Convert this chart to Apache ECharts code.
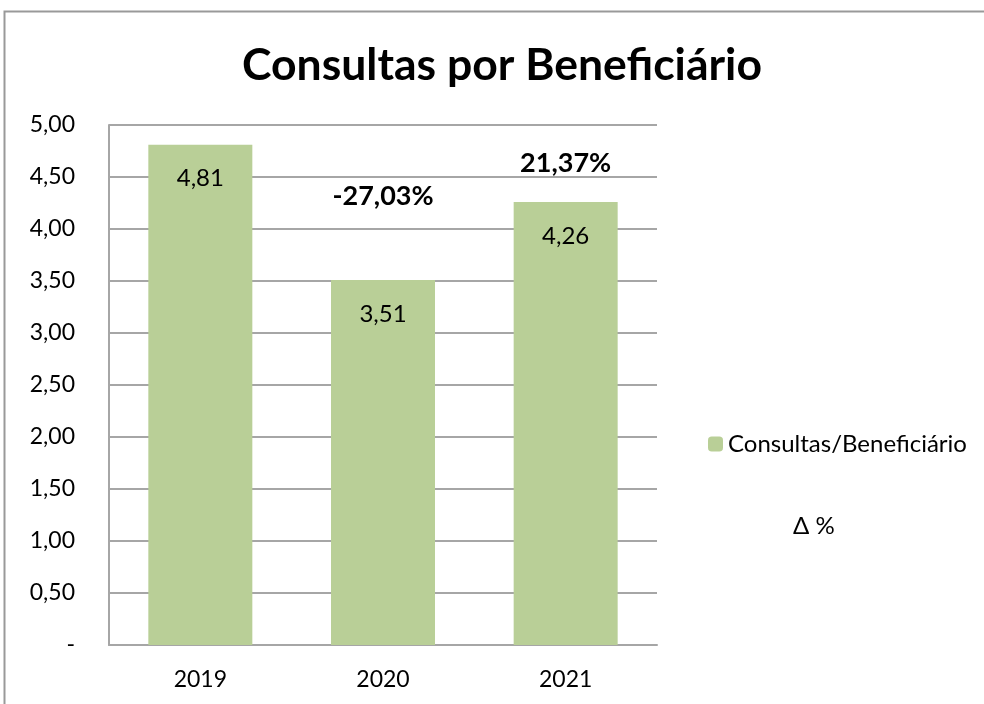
<!DOCTYPE html>
<html>
<head>
<meta charset="utf-8">
<script src="https://cdn.jsdelivr.net/npm/echarts@6/dist/echarts.min.js"></script>
<style>
  html, body { margin: 0; padding: 0; background: #fff; }
  #chart { width: 984px; height: 704px; }
</style>
</head>
<body>
<div id="chart"></div>
<script>
const years = ['2019', '2020', '2021']
const consultas = [4.81, 3.51, 4.26]
// variação anual (%) e altura onde o rótulo aparece no gráfico
const deltaPct = [null, -27.03, 21.37]
const deltaY = [null, 4.31, 4.63]

const fmt = (v, d) => v.toFixed(d).replace('.', ',')
const font = 'Lato, "Open Sans", sans-serif'

const chart = echarts.init(document.getElementById('chart'))

chart.setOption({
  animation: false,
  textStyle: { fontFamily: font },
  title: {
    text: 'Consultas por Beneficiário',
    left: 497,
    textAlign: 'center',
    top: 38,
    textStyle: { fontSize: 44.5, fontWeight: 'bold', color: '#000', fontFamily: font }
  },
  graphic: [{
    type: 'rect',
    shape: { x: 4.5, y: 11.5, width: 1000, height: 720 },
    style: { fill: 'none', stroke: '#999', lineWidth: 2 },
    silent: true,
    z: -1
  }],
  legend: [{
    data: ['Consultas/Beneficiário'],
    left: 703,
    top: 427,
    itemWidth: 15,
    itemHeight: 15,
    itemGap: 6,
    textStyle: { fontSize: 24, color: '#000', fontFamily: font }
  }, {
    data: [{ name: 'Δ %', icon: 'none' }],
    left: 783,
    top: 509,
    itemWidth: 0,
    itemHeight: 0,
    textStyle: { fontSize: 24, color: '#000', fontFamily: font }
  }],
  grid: { left: 109, right: 327, top: 125, bottom: 59 },
  xAxis: {
    type: 'category',
    data: years,
    axisLine: { lineStyle: { color: '#a6a6a6', width: 2 } },
    axisTick: { show: false },
    axisLabel: { fontSize: 23, color: '#000', margin: 23 }
  },
  yAxis: {
    type: 'value',
    min: 0,
    max: 5,
    interval: 0.5,
    axisLine: { show: true, lineStyle: { color: '#a6a6a6', width: 2 } },
    axisTick: { show: false },
    splitLine: { lineStyle: { color: '#a6a6a6', width: 2 } },
    axisLabel: {
      fontSize: 23,
      color: '#000',
      margin: 34,
      formatter: v => v === 0 ? '-' : fmt(v, 2)
    }
  },
  series: [{
    name: 'Consultas/Beneficiário',
    type: 'bar',
    data: consultas,
    barWidth: 104,
    itemStyle: { color: '#b9cf97' },
    label: {
      show: true,
      position: 'insideTop',
      distance: 22,
      fontSize: 24,
      color: '#000',
      formatter: p => fmt(p.value, 2)
    }
  }, {
    name: 'Δ %',
    type: 'scatter',
    data: deltaY,
    symbolSize: 1,
    itemStyle: { color: 'rgba(0,0,0,0)', opacity: 1 },
    label: {
      show: true,
      position: 'inside',
      fontSize: 27,
      fontWeight: 'bold',
      color: '#000',
      opacity: 1,
      textBorderWidth: 0,
      formatter: p => deltaPct[p.dataIndex] == null ? '' : fmt(deltaPct[p.dataIndex], 2) + '%'
    }
  }]
})
</script>
</body>
</html>
